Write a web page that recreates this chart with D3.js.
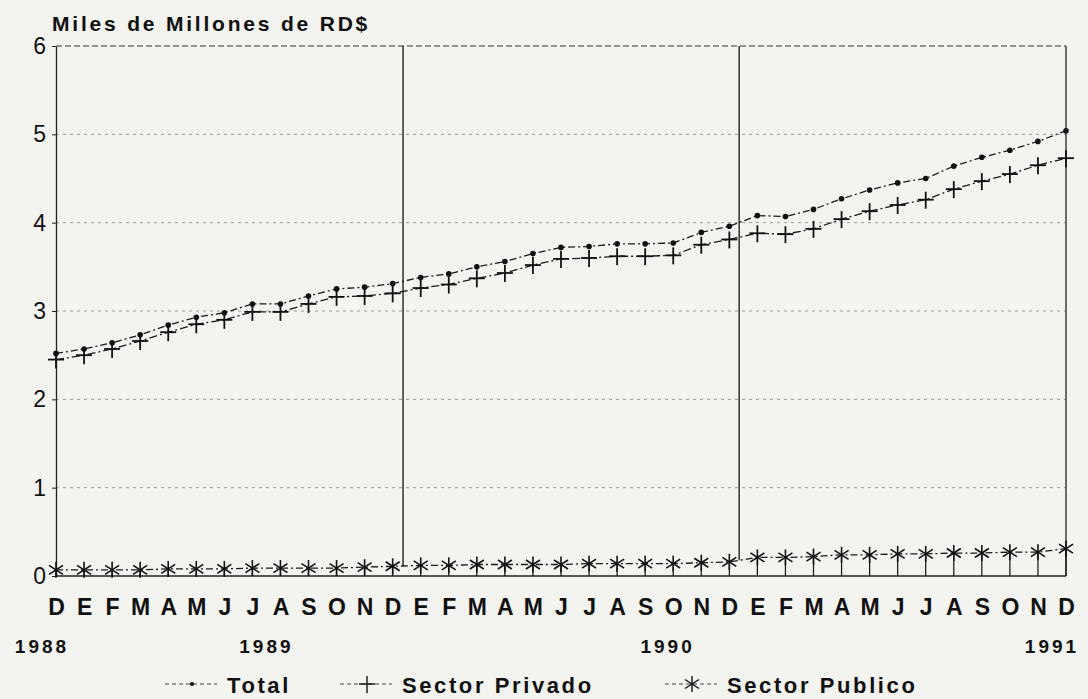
<!DOCTYPE html>
<html>
<head>
<meta charset="utf-8">
<script src="https://cdn.jsdelivr.net/npm/d3@7"></script>
<style>
    body { margin: 0; background: #f3f3f0; }
    text { font-family: "Liberation Sans", Arial, sans-serif; fill: #111; }
</style>
</head>
<body>
<div id="chart"></div>
<script>
const width = 1088;
const height = 699;
const marginTop = 46;
const marginRight = 22;
const marginBottom = 123;
const marginLeft = 56;

// Dec 1988 .. Dec 1991
const months = ["D", "E", "F", "M", "A", "M", "J", "J", "A", "S", "O", "N",
    "D", "E", "F", "M", "A", "M", "J", "J", "A", "S", "O", "N",
    "D", "E", "F", "M", "A", "M", "J", "J", "A", "S", "O", "N", "D"];

const total = [2.52, 2.57, 2.64, 2.73, 2.84, 2.93, 2.98, 3.08, 3.08, 3.17, 3.25, 3.27, 3.31,
    3.38, 3.42, 3.5, 3.56, 3.65, 3.72, 3.73, 3.76, 3.76, 3.77, 3.89, 3.96,
    4.08, 4.07, 4.15, 4.27, 4.37, 4.45, 4.5, 4.64, 4.74, 4.82, 4.92, 5.04];

const privado = [2.45, 2.5, 2.57, 2.66, 2.76, 2.85, 2.9, 2.99, 2.99, 3.08, 3.16, 3.17, 3.2,
    3.26, 3.3, 3.37, 3.43, 3.52, 3.59, 3.6, 3.62, 3.62, 3.63, 3.75, 3.81,
    3.88, 3.87, 3.93, 4.04, 4.13, 4.2, 4.26, 4.38, 4.47, 4.55, 4.65, 4.73];

const publico = [0.07, 0.07, 0.07, 0.07, 0.08, 0.08, 0.08, 0.09, 0.09, 0.09, 0.09, 0.1, 0.11,
    0.12, 0.12, 0.13, 0.13, 0.13, 0.13, 0.14, 0.14, 0.14, 0.14, 0.15, 0.16,
    0.21, 0.21, 0.22, 0.24, 0.24, 0.25, 0.25, 0.26, 0.26, 0.27, 0.27, 0.31];

const yTicks = [0, 1, 2, 3, 4, 5, 6];
const years = ["1988", "1989", "1990", "1991"];
const yearPos = [-0.5, 7.5, 21.8, 35.5];      // in month index units
const yearBreaks = [12.37, 24.35];            // separator lines, month index units

const svg = d3.select("#chart")
    .append("svg")
    .attr("width", width)
    .attr("height", height);

const x = d3.scaleLinear()
    .domain([0, 36])
    .range([marginLeft, width - marginRight]);

const y = d3.scaleLinear()
    .domain([0, 6])
    .range([height - marginBottom, marginTop]);

// grid lines
svg.append("g")
    .selectAll("line")
    .data(yTicks.filter(d => d > 0))
    .join("line")
    .attr("x1", x(0))
    .attr("x2", x(36))
    .attr("y1", d => y(d))
    .attr("y2", d => y(d))
    .attr("stroke", d => d == 6 ? "#333" : "#999")
    .attr("stroke-width", d => d == 6 ? 1.2 : 1)
    .attr("stroke-dasharray", d => d == 6 ? "6,3" : "3,4");

// frame
svg.append("line")
    .attr("x1", x(36)).attr("x2", x(36))
    .attr("y1", y(6)).attr("y2", y(0))
    .attr("stroke", "#222").attr("stroke-width", 1.3);
svg.append("line")
    .attr("x1", x(0)).attr("x2", x(36))
    .attr("y1", y(0)).attr("y2", y(0))
    .attr("stroke", "#222").attr("stroke-width", 1.4);

// y axis
const yAxis = svg.append("g")
    .attr("transform", `translate(${x(0)},0)`)
    .call(d3.axisLeft(y).tickValues(yTicks).tickFormat(d3.format("d"))
        .tickSize(4).tickSizeOuter(0).tickPadding(6));
yAxis.select(".domain").attr("stroke", "#222").attr("stroke-width", 1.3);
yAxis.selectAll(".tick line").attr("stroke", "#222");
yAxis.selectAll("text")
    .attr("font-size", 23)
    .attr("font-family", "Liberation Sans, Arial, sans-serif")
    .attr("fill", "#111");

// year separators, down to the public sector line
const pubAt = i => {
    const a = Math.floor(i);
    const t = i - a;
    return publico[a] + (publico[a + 1] - publico[a]) * t;
};
svg.append("g")
    .selectAll("line")
    .data(yearBreaks)
    .join("line")
    .attr("x1", d => x(d))
    .attr("x2", d => x(d))
    .attr("y1", y(6))
    .attr("y2", d => y(pubAt(d)))
    .attr("stroke", "#222")
    .attr("stroke-width", 1.4);

// x axis month labels
const xAxis = svg.append("g")
    .attr("transform", `translate(0,${y(0)})`)
    .call(d3.axisBottom(x).tickValues(d3.range(37)).tickFormat(i => months[i]).tickSize(0).tickPadding(23));
xAxis.select(".domain").remove();
xAxis.selectAll("text")
    .attr("font-size", 23)
    .attr("font-weight", "bold")
    .attr("font-family", "Liberation Sans, Arial, sans-serif")
    .attr("fill", "#111");

// year labels
svg.append("g")
    .selectAll("text")
    .data(years)
    .join("text")
    .attr("x", (d, i) => x(yearPos[i]))
    .attr("y", 653)
    .attr("text-anchor", "middle")
    .attr("font-size", 19)
    .attr("font-weight", "bold")
    .attr("letter-spacing", 3)
    .text(d => d);

// title
svg.append("text")
    .attr("x", 52)
    .attr("y", 31)
    .attr("font-size", 21)
    .attr("font-weight", "bold")
    .attr("letter-spacing", 2.8)
    .text("Miles de Millones de RD$");

// series lines
const line = d3.line()
    .x((d, i) => x(i))
    .y(d => y(d));

const series = [
    { name: "Total", values: total, dash: "7,3,2,3" },
    { name: "Sector Privado", values: privado, dash: "8,3,2,3" },
    { name: "Sector Publico", values: publico, dash: "7,3,2,3" }
];

svg.append("g")
    .selectAll("path")
    .data(series)
    .join("path")
    .attr("d", d => line(d.values))
    .attr("fill", "none")
    .attr("stroke", "#1a1a1a")
    .attr("stroke-width", 1.3)
    .attr("stroke-dasharray", d => d.dash);

// markers
function plusMark(g) {
    g.append("line").attr("x1", -8).attr("x2", 8).attr("y1", 0).attr("y2", 0);
    g.append("line").attr("x1", 0).attr("x2", 0).attr("y1", -8).attr("y2", 9);
}
function starMark(g) {
    g.append("line").attr("x1", 0).attr("x2", 0).attr("y1", -8).attr("y2", 8);
    g.append("line").attr("x1", -7).attr("x2", 7).attr("y1", -4.5).attr("y2", 4.5);
    g.append("line").attr("x1", -7).attr("x2", 7).attr("y1", 4.5).attr("y2", -4.5);
}

svg.append("g")
    .selectAll("circle")
    .data(total)
    .join("circle")
    .attr("cx", (d, i) => x(i))
    .attr("cy", d => y(d))
    .attr("r", 2.8)
    .attr("fill", "#111");

svg.append("g")
    .selectAll("g")
    .data(privado)
    .join("g")
    .attr("transform", (d, i) => `translate(${x(i)},${y(d)})`)
    .attr("stroke", "#111")
    .attr("stroke-width", 1.8)
    .each(function () { plusMark(d3.select(this)); });

const pub = svg.append("g")
    .selectAll("g")
    .data(publico)
    .join("g")
    .attr("transform", (d, i) => `translate(${x(i)},${y(d)})`)
    .attr("stroke", "#111")
    .attr("stroke-width", 1.6)
    .each(function () { starMark(d3.select(this)); });
// stems down to the base line
pub.append("line")
    .attr("x1", 0).attr("x2", 0)
    .attr("y1", 0)
    .attr("y2", d => y(0) - y(d))
    .attr("stroke-width", 1.2);

// legend
const legend = svg.append("g");
const legendX = [165, 340, 665];
series.forEach((s, i) => {
    const g = legend.append("g").attr("transform", `translate(${legendX[i]},684)`);
    g.append("line")
        .attr("x1", 0).attr("x2", 52)
        .attr("y1", 0).attr("y2", 0)
        .attr("stroke", "#444")
        .attr("stroke-width", 1)
        .attr("stroke-dasharray", "4,3");
    const m = g.append("g").attr("transform", "translate(27,0)").attr("stroke", "#111").attr("stroke-width", 1.4);
    if (i == 0) m.append("circle").attr("r", 2).attr("fill", "#111").attr("stroke", "none");
    if (i == 1) plusMark(m);
    if (i == 2) starMark(m);
    g.append("text")
        .attr("x", 62)
        .attr("y", 9)
        .attr("font-size", 22)
        .attr("font-weight", "bold")
        .attr("letter-spacing", 2.6)
        .text(s.name);
});
</script>
</body>
</html>
